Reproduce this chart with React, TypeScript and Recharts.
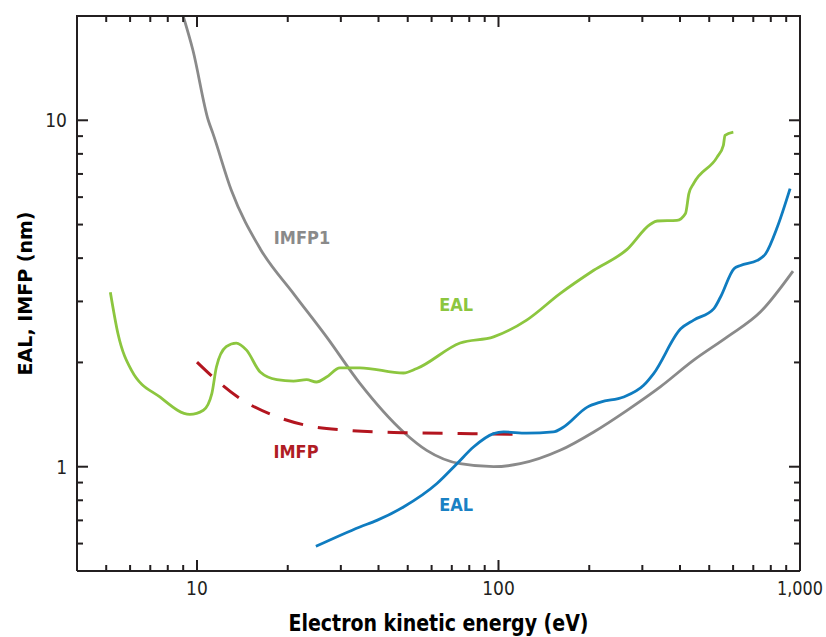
import { LineChart, Line, XAxis, YAxis, ReferenceDot } from 'recharts';

// Electron kinetic energy (eV) / length (nm)
const imfp1Energy = [9.0, 9.7, 10.9, 11.3, 13.0, 16.2, 20.9, 26.9, 34.7, 48.4, 57.8, 74.6, 96.3, 118, 160, 207, 267, 344, 444, 574, 740, 948];
const imfp1Length = [20, 15.9, 10.0, 9.15, 6.28, 4.26, 3.16, 2.37, 1.74, 1.26, 1.115, 1.02, 1.0, 1.02, 1.115, 1.26, 1.455, 1.7, 2.03, 2.37, 2.8, 3.67];

const ealGreenEnergy = [5.16, 5.47, 6.06, 7.53, 9.47, 10.5, 11.2, 11.6, 12.5, 13.5, 14.6, 16.2, 18.4, 20.9, 23.1, 24.9, 26.9, 29.8, 34.7, 48.4, 53.6, 74.6, 96.3, 124, 160, 207, 267, 319, 336, 391, 417, 428, 444, 531, 557, 564, 601];
const ealGreenLength = [3.19, 2.42, 1.9, 1.59, 1.416, 1.455, 1.625, 1.94, 2.22, 2.275, 2.17, 1.877, 1.784, 1.767, 1.784, 1.756, 1.815, 1.93, 1.93, 1.864, 1.92, 2.275, 2.37, 2.65, 3.16, 3.69, 4.24, 5.01, 5.12, 5.14, 5.38, 6.14, 6.57, 7.83, 8.47, 9.05, 9.25];

const ealBlueEnergy = [24.8, 34.7, 39.5, 48.4, 62.5, 72.8, 82.6, 96.3, 104, 124, 152, 164, 197, 218, 260, 303, 327, 402, 444, 518, 545, 604, 635, 722, 769, 841, 927];
const ealBlueLength = [0.589, 0.67, 0.7, 0.765, 0.894, 1.02, 1.14, 1.246, 1.26, 1.25, 1.26, 1.3, 1.486, 1.537, 1.59, 1.718, 1.857, 2.5, 2.65, 2.86, 3.09, 3.73, 3.81, 3.94, 4.12, 4.92, 6.35];

const imfpEnergy = [10.0, 11.3, 13.9, 17.9, 23.1, 31.4, 48.4, 74.6, 121];
const imfpLength = [2.005, 1.815, 1.573, 1.407, 1.316, 1.274, 1.254, 1.247, 1.24];

const xTicks = [5, 6, 7, 8, 9, 10, 20, 30, 40, 50, 60, 70, 80, 90, 100, 200, 300, 400, 500, 600, 700, 800, 900, 1000];
const xTickLabels: Record<number, string> = { 10: '10', 100: '100', 1000: '1,000' };
const yTicks = [0.6, 0.7, 0.8, 0.9, 1, 2, 3, 4, 5, 6, 7, 8, 9, 10];
const yTickLabels: Record<number, string> = { 1: '1', 10: '10' };

const toPoints = (xs: number[], ys: number[]) => xs.map((x, i) => ({ x, y: ys[i] }));

// chart box
const W = 826;
const H = 637;
const MARGIN = { top: 16, right: 25, bottom: 0, left: 0 };
const Y_AXIS_W = 77;
const PLOT_RIGHT = W - MARGIN.right - 1;

const AXIS = '#231f20';
const NARROW = "'Liberation Sans Narrow', 'DejaVu Sans Condensed', 'Open Sans', sans-serif";

function BottomTick({ x, y, payload }: any) {
  const label = xTickLabels[payload.value];
  return (
    <g>
      <line x1={x} y1={y} x2={x} y2={y - (label ? 11 : 6)} stroke={AXIS} strokeWidth={2} />
      {label && (
        <text
          x={x}
          y={y + 24}
          textAnchor="middle"
          fontFamily={NARROW}
          fontStretch="condensed"
          fontSize={19}
          fill="#231f20"
          {...(label.length > 3 ? { textLength: 46, lengthAdjust: 'spacingAndGlyphs' } : {})}
        >
          {label}
        </text>
      )}
    </g>
  );
}

// tick without label hanging down from the top frame
function StubTick({ x, y, payload }: any) {
  const major = xTickLabels[payload.value];
  return <line x1={x} y1={y} x2={x} y2={y + (major ? 11 : 6)} stroke={AXIS} strokeWidth={2} />;
}

function LeftTick({ x, y, payload }: any) {
  const label = yTickLabels[payload.value];
  return (
    <g>
      <line x1={x} y1={y} x2={x + (label ? 11 : 6)} y2={y} stroke={AXIS} strokeWidth={2} />
      {label && (
        <text x={x - 10} y={y + 7} textAnchor="end" fontFamily={NARROW} fontStretch="condensed" fontSize={19} fill="#231f20">
          {label}
        </text>
      )}
    </g>
  );
}

function RightTick({ x, y, payload }: any) {
  const major = yTickLabels[payload.value];
  return <line x1={x} y1={y} x2={x - (major ? 11 : 6)} y2={y} stroke={AXIS} strokeWidth={2} />;
}

const curveLabel = (text: string, color: string) => (props: any) => (
  <text x={props.cx} y={props.cy + 6} textAnchor="middle" fontFamily={NARROW} fontStretch="condensed" fontWeight={600} fontSize={18} fill={color}>
    {text}
  </text>
);

function XTitle({ viewBox }: any) {
  return (
    <text x={viewBox.x + viewBox.width / 2} y={viewBox.y + 60} textAnchor="middle" fontFamily={NARROW} fontStretch="condensed" fontWeight="bold" fontSize={23} fill="#000" textLength={300} lengthAdjust="spacingAndGlyphs">
      Electron kinetic energy (eV)
    </text>
  );
}

function YTitle({ viewBox }: any) {
  const cx = 32;
  const cy = viewBox.y + viewBox.height / 2;
  return (
    <text x={cx} y={cy} transform={`rotate(-90 ${cx} ${cy})`} textAnchor="middle" fontFamily="'DejaVu Sans', sans-serif" fontWeight="bold" fontSize={19} fill="#000">
      EAL, IMFP (nm)
    </text>
  );
}

export default function App() {
  return (
    <div style={{ position: 'relative', width: W, height: H }}>
      <style>{'html,body{margin:0;padding:0;overflow:hidden;background:#fff}'}</style>
      <LineChart width={W} height={H} margin={MARGIN}>
        <XAxis
          dataKey="x"
          type="number"
          scale="log"
          domain={[4, 1000]}
          allowDataOverflow
          ticks={xTicks}
          interval={0}
          height={66}
          tickSize={0}
          tickMargin={0}
          tickLine={false}
          axisLine={{ stroke: AXIS, strokeWidth: 2 }}
          tick={<BottomTick />}
          label={{ content: <XTitle /> }}
        />
        <YAxis
          type="number"
          scale="log"
          domain={[0.5, 20]}
          allowDataOverflow
          ticks={yTicks}
          interval={0}
          width={Y_AXIS_W}
          tickSize={0}
          tickMargin={0}
          tickLine={false}
          axisLine={{ stroke: AXIS, strokeWidth: 2 }}
          tick={<LeftTick />}
          label={{ content: <YTitle /> }}
        />
        <YAxis
          yAxisId="right"
          orientation="right"
          type="number"
          scale="log"
          domain={[0.5, 20]}
          allowDataOverflow
          ticks={yTicks}
          interval={0}
          width={1}
          tickSize={0}
          tickMargin={0}
          tickLine={false}
          axisLine={{ stroke: AXIS, strokeWidth: 2 }}
          tick={<RightTick />}
        />
        {/* invisible copy so the right frame axis carries a series */}
        <Line yAxisId="right" data={toPoints(imfpEnergy, imfpLength)} dataKey="y" stroke="none" dot={false} isAnimationActive={false} />
        <Line data={toPoints(imfp1Energy, imfp1Length)} dataKey="y" type="monotone" stroke="#8a8a8a" strokeWidth={2.8} dot={false} isAnimationActive={false} />
        <Line data={toPoints(ealGreenEnergy, ealGreenLength)} dataKey="y" type="monotone" stroke="#8cc63f" strokeWidth={2.8} dot={false} isAnimationActive={false} />
        <Line data={toPoints(imfpEnergy, imfpLength)} dataKey="y" type="monotone" stroke="#b3151f" strokeWidth={3} strokeDasharray="20 15" dot={false} isAnimationActive={false} />
        <Line data={toPoints(ealBlueEnergy, ealBlueLength)} dataKey="y" type="monotone" stroke="#0f7cc0" strokeWidth={2.8} dot={false} isAnimationActive={false} />
        <ReferenceDot x={22.3} y={4.56} r={0} shape={curveLabel('IMFP1', '#8a8a8a')} />
        <ReferenceDot x={72.4} y={2.92} r={0} shape={curveLabel('EAL', '#8cc63f')} />
        <ReferenceDot x={21.3} y={1.1} r={0} shape={curveLabel('IMFP', '#b01c24')} />
        <ReferenceDot x={72.4} y={0.774} r={0} shape={curveLabel('EAL', '#1a81c4')} />
      </LineChart>

      {/* top frame line */}
      <div style={{ position: 'absolute', left: Y_AXIS_W - 1, top: MARGIN.top - 1, width: PLOT_RIGHT - Y_AXIS_W + 2, height: 2, background: AXIS, pointerEvents: 'none' }} />

      {/* top frame ticks: a thin strip chart whose x axis sits on the frame top */}
      <div style={{ position: 'absolute', left: 0, top: 0, width: W, height: 40, pointerEvents: 'none' }}>
        <LineChart width={W} height={40} margin={{ top: 0, right: W - PLOT_RIGHT, bottom: 0, left: Y_AXIS_W }}>
          <XAxis
            dataKey="x"
            type="number"
            scale="log"
            domain={[4, 1000]}
            allowDataOverflow
            ticks={xTicks}
            interval={0}
            height={40 - MARGIN.top}
            tickSize={0}
            tickMargin={0}
            tickLine={false}
            axisLine={false}
            tick={<StubTick />}
          />
          <YAxis hide type="number" scale="log" domain={[0.5, 20]} allowDataOverflow />
          <Line data={toPoints(imfpEnergy, imfpLength)} dataKey="y" stroke="none" dot={false} isAnimationActive={false} />
        </LineChart>
      </div>
    </div>
  );
}
